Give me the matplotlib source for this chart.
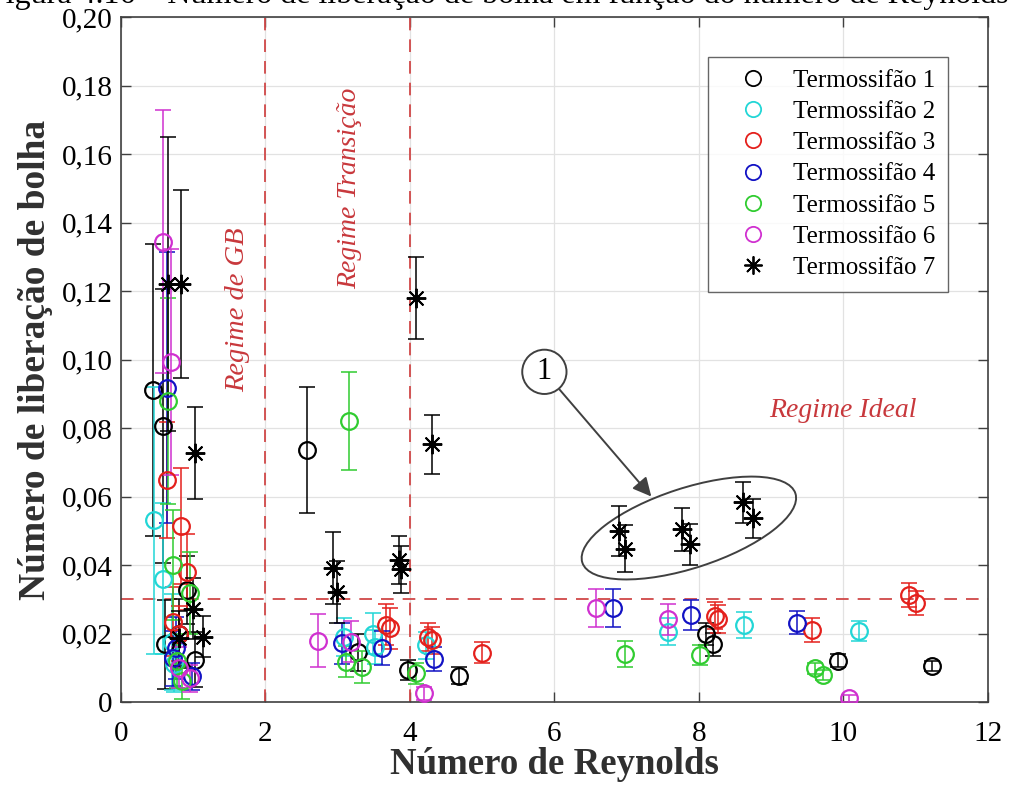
import matplotlib
matplotlib.use("Agg")
import matplotlib.pyplot as plt
from matplotlib.patches import Ellipse
from matplotlib.lines import Line2D
from matplotlib.transforms import ScaledTranslation
from matplotlib.ticker import FuncFormatter

plt.rcParams['font.family'] = ['Liberation Serif', 'DejaVu Serif']

# Termossifao 1 (black circles)
t1_re = [0.44, 0.58, 0.61, 0.91, 1.02, 0.80, 2.58, 3.28, 3.97, 4.68, 8.10, 8.20, 9.92, 11.23]
t1_nb = [0.091, 0.0807, 0.0169, 0.0327, 0.0123, 0.020, 0.0736, 0.0145, 0.0093, 0.0077, 0.0198, 0.0168, 0.0121, 0.0106]
t1_err = [0.0426, 0.04, 0.013, 0.010, 0.008, 0.010, 0.0185, 0.0054, 0.003, 0.0025, 0.0033, 0.0033, 0.002, 0.0015]

# Termossifao 2 (cyan)
t2_re = [0.456, 0.577, 0.70, 0.74, 3.08, 3.49, 3.51, 4.22, 7.57, 8.62, 10.21]
t2_nb = [0.0531, 0.036, 0.0176, 0.011, 0.0189, 0.0200, 0.016, 0.0165, 0.0205, 0.0225, 0.0207]
t2_err = [0.039, 0.022, 0.014, 0.008, 0.0055, 0.006, 0.005, 0.004, 0.004, 0.0037, 0.003]

# Termossifao 3 (red)
t3_re = [0.64, 0.826, 0.91, 0.72, 0.80, 3.67, 3.72, 4.25, 4.30, 4.99, 8.22, 8.26, 9.56, 10.90, 11.01]
t3_nb = [0.0648, 0.0514, 0.038, 0.0235, 0.020, 0.0225, 0.0215, 0.019, 0.018, 0.0144, 0.0252, 0.0242, 0.021, 0.0312, 0.0288]
t3_err = [0.017, 0.017, 0.011, 0.010, 0.008, 0.006, 0.006, 0.004, 0.004, 0.003, 0.004, 0.004, 0.0034, 0.0035, 0.0035]

# Termossifao 4 (blue)
t4_re = [0.63, 0.72, 0.76, 0.98, 3.06, 3.61, 4.33, 6.81, 7.89, 9.35]
t4_nb = [0.0918, 0.0128, 0.0157, 0.0075, 0.0171, 0.0157, 0.0125, 0.0274, 0.0254, 0.0232]
t4_err = [0.0395, 0.008, 0.009, 0.004, 0.006, 0.005, 0.0035, 0.0055, 0.0044, 0.0033]

# Termossifao 5 (green)
t5_re = [0.655, 0.72, 0.955, 0.78, 0.85, 3.15, 3.12, 3.33, 4.08, 6.98, 8.02, 9.61, 9.71]
t5_nb = [0.0879, 0.040, 0.0319, 0.012, 0.006, 0.0821, 0.0118, 0.0103, 0.0084, 0.014, 0.0137, 0.0098, 0.0079]
t5_err = [0.03, 0.016, 0.012, 0.008, 0.005, 0.0143, 0.0045, 0.0047, 0.003, 0.0037, 0.003, 0.0015, 0.0015]

# Termossifao 6 (magenta)
t6_re = [0.585, 0.687, 0.955, 0.80, 2.73, 3.19, 4.19, 6.58, 7.57, 10.08]
t6_nb = [0.1344, 0.0994, 0.0069, 0.010, 0.0179, 0.0176, 0.0025, 0.0274, 0.0241, 0.0011]
t6_err = [0.0384, 0.033, 0.004, 0.006, 0.0077, 0.006, 0.002, 0.0056, 0.0045, 0.001]

# Termossifao 7 (black stars)
t7_re = [0.655, 0.826, 1.03, 0.99, 1.14, 0.80, 2.93, 2.99, 3.85, 3.87, 4.09, 4.30, 6.89, 6.98, 7.77, 7.88, 8.61, 8.75]
t7_nb = [0.122, 0.122, 0.0727, 0.0273, 0.019, 0.0186, 0.0392, 0.0321, 0.0415, 0.0387, 0.118, 0.0752, 0.050, 0.0448, 0.0504, 0.046, 0.0583, 0.0536]
t7_err = [0.043, 0.0275, 0.0135, 0.009, 0.006, 0.008, 0.0105, 0.009, 0.007, 0.0068, 0.012, 0.0087, 0.0073, 0.0068, 0.0063, 0.006, 0.006, 0.0056]

series = [
    ('Termossifão 1', t1_re, t1_nb, t1_err, 'black', 'o'),
    ('Termossifão 2', t2_re, t2_nb, t2_err, '#22d6d6', 'o'),
    ('Termossifão 3', t3_re, t3_nb, t3_err, '#e4201c', 'o'),
    ('Termossifão 4', t4_re, t4_nb, t4_err, '#1212c4', 'o'),
    ('Termossifão 5', t5_re, t5_nb, t5_err, '#30cc30', 'o'),
    ('Termossifão 6', t6_re, t6_nb, t6_err, '#d030d0', 'o'),
    ('Termossifão 7', t7_re, t7_nb, t7_err, 'black', (8, 2, 0)),
]

red_line = '#d04848'
text_red = '#c8383c'

fig = plt.figure(figsize=(10.1, 7.91), dpi=100)
ax = fig.add_axes([0.1198, 0.1125, 0.8584, 0.866])

handles = []
for name, xs, ys, es, col, mk in series:
    ax.errorbar(xs, ys, yerr=es, fmt='none', ecolor=col, elinewidth=1.1,
                capsize=5.5, capthick=1.1, zorder=3)
    if mk == 'o':
        ax.plot(xs, ys, linestyle='none', marker='o', mfc='none', mec=col, mew=1.6,
                ms=12, zorder=4)
        handles.append(Line2D([], [], linestyle='none', marker='o', mfc='none', mec=col,
                              mew=1.3, ms=11, label=name))
    else:
        ax.plot(xs, ys, linestyle='none', marker=mk, color=col, mec=col, mew=1.4,
                ms=14, zorder=4)
        handles.append(Line2D([], [], linestyle='none', marker=mk, color=col, mec=col,
                              mew=1.3, ms=13, label=name))

# regime limits
ax.axvline(2, color=red_line, ls=(0, (7, 5)), lw=1.3, zorder=2)
ax.axvline(4, color=red_line, ls=(0, (7, 5)), lw=1.3, zorder=2)
ax.axhline(0.03, color=red_line, ls=(0, (7, 5)), lw=1.3, zorder=2)

ax.text(1.61, 0.1145, 'Regime de GB', rotation=90, color=text_red, style='italic',
        fontsize=20.5, ha='center', va='center')
ax.text(3.17, 0.150, 'Regime Transição', rotation=90, color=text_red, style='italic',
        fontsize=20, ha='center', va='center')
ax.text(9.99, 0.085, 'Regime Ideal', color=text_red, style='italic',
        fontsize=20, ha='center', va='center')

# highlighted group
ell = Ellipse((0, 0), 2.24, 0.80, angle=18, fill=False, ec='#404040', lw=1.4,
              transform=fig.dpi_scale_trans + ScaledTranslation(7.86, 0.0508, ax.transData))
ax.add_patch(ell)
ax.annotate('1', xy=(7.34, 0.0600), xytext=(5.86, 0.0964), fontsize=22,
            ha='center', va='center',
            bbox=dict(boxstyle='circle,pad=0.25', fc='white', ec='#404040', lw=1.4),
            arrowprops=dict(arrowstyle='-|>', color='#404040', lw=1.4, mutation_scale=28,
                            shrinkA=0, shrinkB=0))

ax.set_xlim(0, 12)
ax.set_ylim(0, 0.20)
ax.set_xticks(range(0, 13, 2))
ax.set_yticks([i * 0.02 for i in range(11)])
ax.yaxis.set_major_formatter(FuncFormatter(lambda v, p: '0' if abs(v) < 1e-9 else f'{v:.2f}'.replace('.', ',')))
ax.tick_params(direction='in', top=True, right=True, labelsize=21, length=7, width=1.0,
               color='#404040')
ax.tick_params(axis='x', pad=14)
ax.tick_params(axis='y', pad=6)
ax.grid(True, color='#e2e2e2', lw=0.9)
ax.set_axisbelow(True)
for s in ax.spines.values():
    s.set_color('#404040')
    s.set_linewidth(1.2)

ax.set_xlabel('Número de Reynolds', fontsize=26.5, fontweight='bold', labelpad=0, color='#303030')
ax.set_ylabel('Número de liberação de bolha', fontsize=27, fontweight='bold', labelpad=6, color='#303030')

leg = ax.legend(handles=handles, loc='upper right', bbox_to_anchor=(0.954, 0.942),
                borderaxespad=0, fontsize=18, frameon=True, fancybox=False,
                edgecolor='#404040', handletextpad=0.3, labelspacing=0.35,
                borderpad=0.5, handlelength=2.6)
leg.get_frame().set_linewidth(1.0)

fig.text(-0.012, 1.006, 'Figura 4.16 – Número de liberação de bolha em função do número de Reynolds',
         fontsize=23, ha='left', va='center')

fig.savefig('out.png', dpi=100)
